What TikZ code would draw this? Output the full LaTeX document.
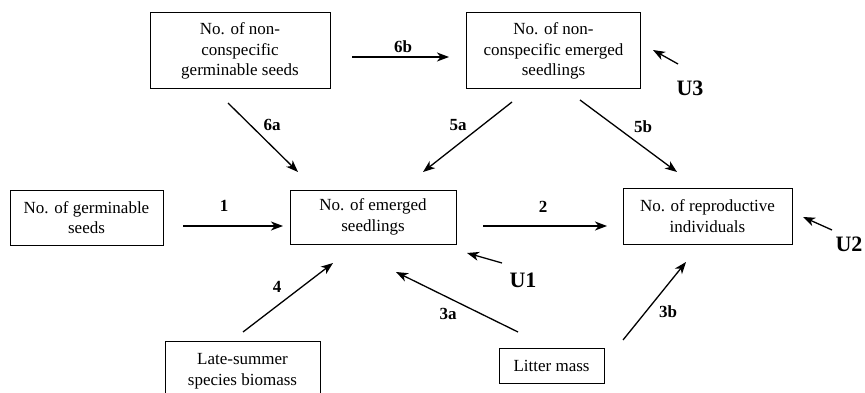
\documentclass[tikz,border=0pt]{standalone}
\usepackage{fontspec}
\setmainfont{Liberation Serif}
\newfontfamily\boxfont{Liberation Serif}
\usetikzlibrary{arrows.meta}
\begin{document}
\begin{tikzpicture}[x=1pt,y=-1pt,
 box/.style={draw, line width=1pt, align=center, inner sep=0pt, font=\boxfont\fontsize{17}{20.5}\selectfont},
 arr/.style={line width=1.3pt, -{Stealth[length=12pt,width=9pt,inset=3.5pt]}},
 lab/.style={inner sep=0pt, font=\boxfont\fontsize{17}{20}\selectfont\bfseries},
 ulab/.style={inner sep=0pt, font=\boxfont\fontsize{22}{24}\selectfont\bfseries}]
\useasboundingbox (0,0) rectangle (865,393);
\clip (0,0) rectangle (865,393);
% boxes
\node[box, minimum width=180, minimum height=76] (A) at (240,51) {No. of non-\\conspecific\\germinable seeds};
\node[box, minimum width=174, minimum height=76] (B) at (553.5,51) {No. of non-\\conspecific emerged\\seedlings};
\node[box, minimum width=153, minimum height=55] (C) at (86.5,217.5) {No. of germinable\\seeds};
\node[box, minimum width=166, minimum height=54] (D) at (373,217) {No. of emerged\\seedlings};
\node[box, minimum width=169, minimum height=56] (E) at (707.5,216) {No. of reproductive\\individuals};
\node[box, minimum width=155, minimum height=60] (F) at (242.5,371) {Late-summer\\species biomass};
\node[box, minimum width=105, minimum height=35] (G) at (551.5,365.5) {Litter mass};
% free-floating connector ends
\coordinate (s6b) at (352,57);  \coordinate (e6b) at (449,57);
\coordinate (s6a) at (228,103); \coordinate (e6a) at (298,172);
\coordinate (s5a) at (512,102); \coordinate (e5a) at (423,172);
\coordinate (s5b) at (580,100); \coordinate (e5b) at (677,172);
\coordinate (sU3) at (678,64);  \coordinate (eU3) at (653,50);
\coordinate (s1) at (183,226);  \coordinate (e1) at (283,226);
\coordinate (s2) at (483,226);  \coordinate (e2) at (607,226);
\coordinate (sU2) at (832,230); \coordinate (eU2) at (803,217);
\coordinate (sU1) at (502,263); \coordinate (eU1) at (467,253);
\coordinate (s4) at (243,332);  \coordinate (e4) at (333,263);
\coordinate (s3a) at (518,332); \coordinate (e3a) at (396,272);
\coordinate (s3b) at (623,340); \coordinate (e3b) at (686,262);
% connectors
\draw[arr] (s6b) -- (e6b);
\draw[arr] (s6a) -- (e6a);
\draw[arr] (s5a) -- (e5a);
\draw[arr] (s5b) -- (e5b);
\draw[arr] (sU3) -- (eU3);
\draw[arr] (s1) -- (e1);
\draw[arr] (s2) -- (e2);
\draw[arr] (sU2) -- (eU2);
\draw[arr] (sU1) -- (eU1);
\draw[arr] (s4) -- (e4);
\draw[arr] (s3a) -- (e3a);
\draw[arr] (s3b) -- (e3b);
% labels
\node[lab] (l6b) at (403,47) {6b};
\node[lab] (l6a) at (272,125) {6a};
\node[lab] (l5a) at (458,125) {5a};
\node[lab] (l5b) at (643,127) {5b};
\node[lab] (l1) at (224,206) {1};
\node[lab] (l2) at (543,207) {2};
\node[lab] (l4) at (277,287) {4};
\node[lab] (l3a) at (448,314) {3a};
\node[lab] (l3b) at (668,312) {3b};
\node[ulab] (U3) at (690,88) {U3};
\node[ulab] (U1) at (523,280) {U1};
\node[ulab] (U2) at (849,244) {U2};
\end{tikzpicture}
\end{document}
